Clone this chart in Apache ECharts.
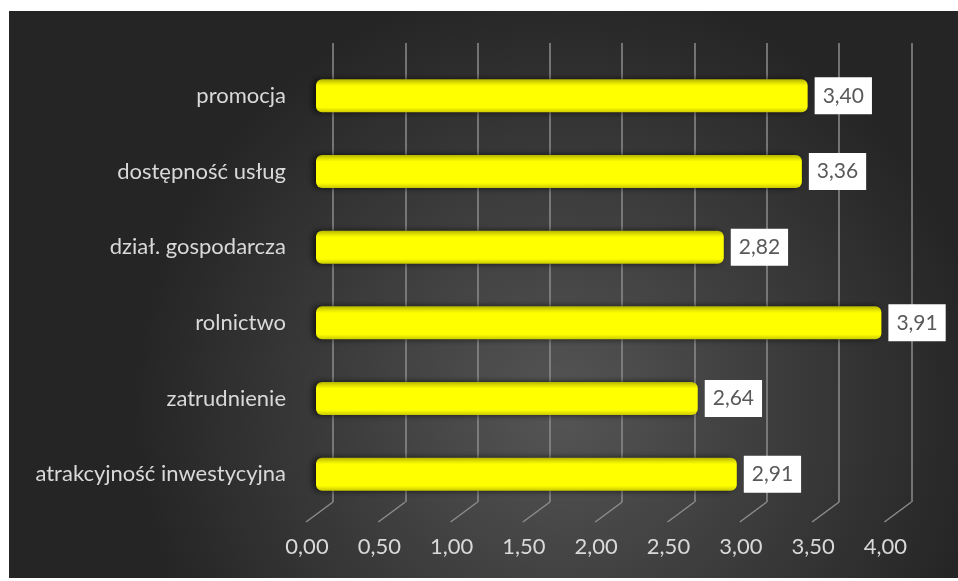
<!DOCTYPE html>
<html>
<head>
<meta charset="utf-8">
<script src="https://cdn.jsdelivr.net/npm/echarts@6/dist/echarts.min.js"></script>
<style>
html,body{margin:0;padding:0;background:#ffffff;}
#chart{width:958px;height:581px;}
</style>
</head>
<body>
<div id="chart"></div>
<script>
const categories = ['promocja', 'dostępność usług', 'dział. gospodarcza', 'rolnictwo', 'zatrudnienie', 'atrakcyjność inwestycyjna'];
const values = [3.40, 3.36, 2.82, 3.91, 2.64, 2.91];
const tickValues = [0, 0.5, 1, 1.5, 2, 2.5, 3, 3.5, 4];

const fmt = v => Number(v).toFixed(2).replace('.', ',');
const FONT = 'Lato';

const chart = echarts.init(document.getElementById('chart'));
const option = {
  backgroundColor: '#ffffff',
  animation: false,
  graphic: [{
    type: 'rect', z: -10, silent: true,
    shape: {x: 9, y: 11, width: 949, height: 567},
    style: {
      fill: new echarts.graphic.RadialGradient(0.58, 0.7, 0.75, [
        {offset: 0, color: '#555555'},
        {offset: 1, color: '#252525'}
      ])
    }
  }],
  grid: [
    {left: 307, width: 578.4, top: 43, bottom: 59},
    {left: 333, width: 578.4, top: 43, bottom: 79},
    {left: 316, width: 578.4, top: 58, bottom: 69}
  ],
  xAxis: [
    {
      type: 'value', gridIndex: 0, min: 0, max: 4, interval: 0.5,
      axisLine: {show: false}, axisTick: {show: false}, splitLine: {show: false},
      axisLabel: {color: '#d9d9d9', fontFamily: FONT, fontSize: 22, margin: 14, formatter: fmt}
    },
    {
      type: 'value', gridIndex: 1, min: 0, max: 4, interval: 0.5,
      axisLine: {show: false}, axisTick: {show: false}, axisLabel: {show: false},
      splitLine: {show: true, lineStyle: {color: '#8c8c8c', width: 1.5}}
    },
    {
      type: 'value', gridIndex: 2, min: 0, max: 4, interval: 0.5, show: false
    }
  ],
  yAxis: [
    {type: 'value', gridIndex: 0, min: 0, max: 1, show: false},
    {type: 'value', gridIndex: 1, min: 0, max: 1, show: false},
    {
      type: 'category', gridIndex: 2, data: categories, inverse: true,
      axisLine: {show: false}, axisTick: {show: false}, splitLine: {show: false},
      axisLabel: {color: '#d9d9d9', fontFamily: FONT, fontSize: 22, margin: 30}
    }
  ],
  series: [
    {
      type: 'custom', xAxisIndex: 1, yAxisIndex: 1, silent: true, z: 1,
      data: tickValues.map(v => [v, 0]),
      renderItem: function (params, api) {
        const p = api.coord([api.value(0), 0]);
        return {
          type: 'line',
          shape: {x1: p[0], y1: p[1], x2: p[0] - 27, y2: p[1] + 20},
          style: {stroke: '#8c8c8c', lineWidth: 1.5}
        };
      }
    },
    {
      type: 'bar', xAxisIndex: 2, yAxisIndex: 2, z: 3,
      data: values,
      barWidth: 33,
      itemStyle: {
        borderRadius: 6,
        color: new echarts.graphic.LinearGradient(0, 0, 0, 1, [
          {offset: 0, color: '#b5b500'},
          {offset: 0.12, color: '#e6e600'},
          {offset: 0.2, color: '#ffff00'},
          {offset: 0.85, color: '#ffff00'},
          {offset: 1, color: '#caca00'}
        ]),
        shadowColor: 'rgba(0,0,0,0.7)',
        shadowBlur: 6,
        shadowOffsetX: -3,
        shadowOffsetY: 0
      },
      label: {
        show: true, position: 'right', distance: 7,
        formatter: p => fmt(p.value),
        color: '#595959', fontFamily: FONT, fontSize: 21, lineHeight: 25,
        backgroundColor: '#ffffff', padding: [6, 8, 6, 8]
      }
    }
  ]
};
chart.setOption(option);
</script>
</body>
</html>
